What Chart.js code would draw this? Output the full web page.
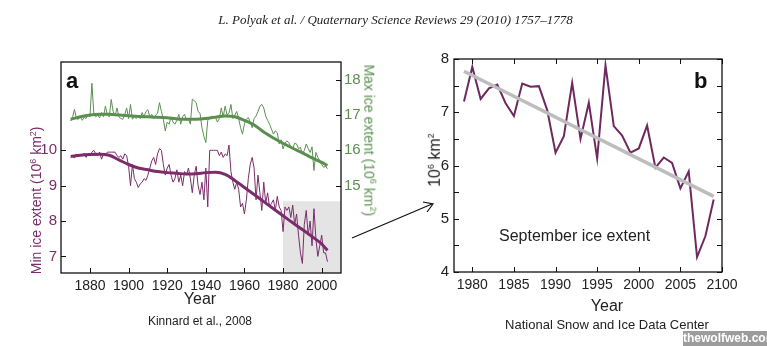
<!DOCTYPE html>
<html>
<head>
<meta charset="utf-8">
<script src="https://cdn.jsdelivr.net/npm/chart.js@4"></script>
<style>
  body { margin: 0; background: #fff; }
  #page { position: relative; width: 767px; height: 346px; overflow: hidden; font-family: "Liberation Sans", Arial, sans-serif; }
  canvas { position: absolute; top: 0; }
  .t { position: absolute; white-space: nowrap; line-height: 1; }
  .rot { transform-origin: center center; }
</style>
</head>
<body>
<div id="page">
  <canvas id="chartA" width="380" height="346" style="left:0"></canvas>
  <canvas id="chartB" width="387" height="346" style="left:380px"></canvas>

  <div class="t" style="left:12px;width:767px;top:13px;text-align:center;font-family:'Liberation Serif',serif;font-style:italic;font-size:13px;color:#222">L. Polyak et al. / Quaternary Science Reviews 29 (2010) 1757–1778</div>

  <div class="t" style="left:66px;top:70px;font-size:22px;font-weight:bold;color:#111">a</div>
  <div class="t" style="left:694px;top:70px;font-size:22px;font-weight:bold;color:#111">b</div>

  <div class="t rot" style="left:-64px;top:193px;width:200px;text-align:center;font-size:14px;color:#7b2d6b;transform:rotate(-90deg)">Min ice extent (10<sup style="font-size:9px">6</sup> km<sup style="font-size:9px">2</sup>)</div>
  <div class="t rot" style="left:270px;top:133px;width:200px;text-align:center;font-size:14px;color:#5a8f50;transform:rotate(90deg)">Max ice extent (10<sup style="font-size:9px">6</sup> km<sup style="font-size:9px">2</sup>)</div>
  <div class="t rot" style="left:385px;top:152px;width:100px;text-align:center;font-size:16px;color:#222;transform:rotate(-90deg)">10<sup style="font-size:9px">6</sup> km<sup style="font-size:9px">2</sup></div>

  <div class="t" style="left:100px;width:200px;top:291px;text-align:center;font-size:16px;color:#222">Year</div>
  <div class="t" style="left:507px;width:200px;top:298px;text-align:center;font-size:16px;color:#222">Year</div>
  <div class="t" style="left:100px;width:200px;top:315px;text-align:center;font-size:12px;color:#222">Kinnard et al., 2008</div>
  <div class="t" style="left:457px;width:300px;top:318px;text-align:center;font-size:13px;color:#222">National Snow and Ice Data Center</div>

  <div class="t" style="left:499px;top:228px;font-size:16px;color:#222">September ice extent</div>

  <div class="t" style="left:683px;top:331px;width:84px;height:15px;background:#9c9c9c;color:#fff;font-size:12px;font-weight:bold;line-height:15px;text-align:center">thewolfweb.com</div>

  <svg width="767" height="346" style="position:absolute;left:0;top:0;pointer-events:none">
    <line x1="352" y1="238" x2="432" y2="204" stroke="#111" stroke-width="1.2"/>
    <polyline points="423,202 433,204 427,212" fill="none" stroke="#111" stroke-width="1.2"/>
  </svg>
</div>

<script>
// panel a: Kinnard et al. 2008 reconstruction, annual values from 1870
const startYear = 1870;
const minExtent = [
  9.80, 9.85, 9.78, 9.90, 9.82, 9.88, 9.85, 9.92, 9.80, 9.90,
  9.85, 9.95, 10.00, 9.90, 9.85, 9.95, 9.75, 9.90, 9.85, 9.95,
  9.95, 9.95, 9.95, 9.95, 9.85, 9.80, 9.85, 9.75, 9.90, 9.85,
  9.55, 9.00, 9.60, 9.20, 9.10, 8.95, 9.05, 9.10, 9.20, 9.15,
  9.30, 9.50, 9.70, 9.80, 9.60, 9.90, 10.05, 10.00, 9.60, 9.30,
  9.50, 9.60, 9.30, 9.10, 9.20, 9.45, 9.10, 9.30, 9.00, 9.40,
  9.30, 9.50, 9.20, 8.80, 9.30, 9.55, 9.00, 8.75, 9.10, 8.60,
  9.50, 8.40, 10.00, 10.00, 10.00, 10.00, 10.00, 9.85, 9.95, 9.80,
  9.90, 9.85, 10.15, 9.40, 9.10, 8.90, 9.10, 8.90, 8.40, 8.50,
  8.20, 8.60, 9.20, 9.60, 9.80, 9.50, 8.60, 9.30, 8.80, 8.30,
  9.10, 8.50, 8.80, 8.40, 8.50, 8.60, 8.30, 8.70, 8.40, 8.30,
  7.70, 8.40, 8.30, 8.40, 8.10, 8.45, 7.90, 8.20, 7.60, 7.10,
  6.80, 7.90, 8.30, 7.60, 8.00, 7.30, 8.35, 7.50, 7.00, 7.30,
  7.60, 7.10, 7.10, 6.85
];
const maxExtent = [
  16.83, 16.95, 17.16, 16.90, 16.88, 16.95, 16.85, 16.93, 16.90, 17.00,
  16.95, 17.90, 17.05, 16.95, 17.00, 16.92, 17.07, 16.95, 17.25, 17.00,
  16.95, 17.44, 17.10, 16.97, 17.20, 16.95, 16.90, 16.88, 17.00, 17.20,
  16.90, 17.30, 16.88, 16.95, 16.90, 16.97, 16.90, 17.07, 16.95, 17.10,
  17.15, 16.95, 17.02, 16.90, 17.00, 17.05, 17.35, 17.10, 16.88, 16.55,
  16.80, 16.74, 16.95, 16.80, 16.74, 16.85, 17.02, 16.74, 16.95, 17.02,
  16.85, 16.90, 16.74, 17.45, 17.40, 17.35, 17.10, 17.05, 16.64, 16.40,
  16.22, 16.85, 16.90, 16.97, 16.95, 16.93, 16.80, 16.90, 17.20, 16.95,
  17.25, 17.00, 17.05, 17.30, 16.90, 17.00, 17.10, 16.90, 16.64, 16.46,
  16.75, 16.88, 16.93, 16.80, 16.64, 16.90, 16.97, 17.10, 17.25, 17.30,
  17.20, 16.97, 16.85, 16.74, 16.60, 16.46, 16.55, 16.50, 16.18, 16.30,
  16.04, 16.20, 16.27, 16.22, 16.10, 16.04, 16.20, 16.18, 16.05, 16.08,
  15.90, 16.00, 16.18, 16.05, 15.94, 16.10, 15.43, 15.94, 15.80, 15.71,
  15.60, 15.52, 15.55, 15.48
];
const smoothYears = [1870, 1875, 1880, 1885, 1890, 1895, 1900, 1905, 1910, 1915, 1920, 1925, 1930, 1935,
  1940, 1945, 1950, 1955, 1960, 1965, 1970, 1975, 1980, 1985, 1990, 1995, 2000, 2003];
const minSmooth = [9.83, 9.86, 9.88, 9.89, 9.86, 9.73, 9.60, 9.50, 9.45, 9.40, 9.37, 9.35, 9.33, 9.34,
  9.37, 9.38, 9.32, 9.15, 8.95, 8.75, 8.55, 8.35, 8.15, 7.95, 7.76, 7.56, 7.35, 7.17];
const maxSmooth = [16.88, 16.95, 17.00, 17.02, 17.02, 17.00, 16.98, 16.96, 16.95, 16.94, 16.92, 16.89, 16.88, 16.88,
  16.90, 16.94, 16.97, 16.95, 16.85, 16.72, 16.52, 16.35, 16.20, 16.06, 15.93, 15.79, 15.66, 15.57];
const xTicksA = [1880, 1900, 1920, 1940, 1960, 1980, 2000];
const minTicks = [7, 8, 9, 10];
const maxTicks = [15, 16, 17, 18];

// panel b: NSIDC September extent
const septYears = [1979, 1980, 1981, 1982, 1983, 1984, 1985, 1986, 1987, 1988, 1989, 1990, 1991, 1992,
  1993, 1994, 1995, 1996, 1997, 1998, 1999, 2000, 2001, 2002, 2003, 2004, 2005, 2006, 2007, 2008, 2009];
const septExtent = [7.20, 7.85, 7.25, 7.45, 7.52, 7.17, 6.93, 7.54, 7.48, 7.49, 7.04, 6.24, 6.55, 7.55,
  6.50, 7.18, 6.13, 7.88, 6.74, 6.56, 6.24, 6.32, 6.75, 5.96, 6.15, 6.05, 5.57, 5.89, 4.28, 4.67, 5.36];
const trendYears = [1979, 2009];
const trendValues = [7.77, 5.42];
const xTicksB = [1980, 1985, 1990, 1995, 2000, 2005, 2010];
const xTickLabelsB = ["1980", "1985", "1990", "1995", "2000", "2005", "2100"];
const yTicksB = [4, 5, 6, 7, 8];
const yMinorB = [4, 4.5, 5, 5.5, 6, 6.5, 7, 7.5, 8];

const PURPLE = "#7b2d6b";
const GREEN = "#5a8f50";
const FONT = "'Liberation Sans', Arial, sans-serif";

// box frame, inward tick marks and optional grey shading
const frameTicks = {
  id: "frameTicks",
  beforeDatasetsDraw(chart, args, opts) {
    if (!opts.shade) return;
    const { ctx, chartArea: a, scales } = chart;
    const x0 = scales.x.getPixelForValue(opts.shade.from);
    const y0 = scales[opts.shade.axis].getPixelForValue(opts.shade.top);
    ctx.save();
    ctx.fillStyle = "#e4e4e4";
    ctx.fillRect(x0, y0, a.right - x0, a.bottom - y0);
    ctx.restore();
  },
  afterDraw(chart, args, opts) {
    const { ctx, chartArea: a, scales } = chart;
    ctx.save();
    ctx.strokeStyle = "#111";
    ctx.lineWidth = 1.3;
    ctx.strokeRect(a.left, a.top, a.width, a.height);
    ctx.lineWidth = 1;
    (opts.marks || []).forEach(m => {
      const s = scales[m.axis];
      const len = m.len || 5;
      ctx.beginPath();
      m.values.forEach(v => {
        const p = Math.round(s.getPixelForValue(v)) + 0.5;
        m.sides.forEach(side => {
          if (side === "bottom") { ctx.moveTo(p, a.bottom); ctx.lineTo(p, a.bottom - len); }
          if (side === "top") { ctx.moveTo(p, a.top); ctx.lineTo(p, a.top + len); }
          if (side === "left") { ctx.moveTo(a.left, p); ctx.lineTo(a.left + len, p); }
          if (side === "right") { ctx.moveTo(a.right, p); ctx.lineTo(a.right - len, p); }
        });
      });
      ctx.stroke();
    });
    ctx.restore();
  }
};

function fixedTicks(values) {
  return s => { s.ticks = values.map(v => ({ value: v })); };
}

const noGrid = { display: false, drawTicks: false, tickLength: 0 };

// ---- panel a ----
new Chart(document.getElementById("chartA"), {
  type: "line",
  data: {
    datasets: [
      {
        data: maxExtent.map((v, i) => ({ x: startYear + i, y: v })),
        yAxisID: "y2", borderColor: GREEN, borderWidth: 1, pointRadius: 0, tension: 0
      },
      {
        data: smoothYears.map((yr, i) => ({ x: yr, y: maxSmooth[i] })),
        yAxisID: "y2", borderColor: GREEN, borderWidth: 3, pointRadius: 0, cubicInterpolationMode: "monotone"
      },
      {
        data: minExtent.map((v, i) => ({ x: startYear + i, y: v })),
        yAxisID: "y", borderColor: PURPLE, borderWidth: 1, pointRadius: 0, tension: 0
      },
      {
        data: smoothYears.map((yr, i) => ({ x: yr, y: minSmooth[i] })),
        yAxisID: "y", borderColor: PURPLE, borderWidth: 3, pointRadius: 0, cubicInterpolationMode: "monotone"
      }
    ]
  },
  options: {
    responsive: false,
    animation: false,
    layout: { padding: { left: 41, right: 15, top: 62, bottom: 51 } },
    plugins: {
      legend: { display: false },
      tooltip: { enabled: false },
      frameTicks: {
        shade: { from: 1980, top: 8.56, axis: "y" },
        marks: [
          { axis: "x", values: xTicksA, sides: ["bottom"] },
          { axis: "y", values: minTicks, sides: ["left"] },
          { axis: "y2", values: maxTicks, sides: ["right"] }
        ]
      }
    },
    scales: {
      x: {
        type: "linear", min: 1865, max: 2010,
        afterBuildTicks: fixedTicks(xTicksA),
        afterFit: s => { s.height = 22; },
        grid: noGrid, border: { display: false },
        ticks: { padding: 5, color: "#222", font: { family: FONT, size: 14 }, callback: v => String(v) }
      },
      y: {
        position: "left", min: 6.53, max: 12.5,
        afterBuildTicks: fixedTicks(minTicks),
        afterFit: s => { s.width = 20; },
        grid: noGrid, border: { display: false },
        ticks: { padding: 4, color: PURPLE, font: { family: FONT, size: 15 } }
      },
      y2: {
        position: "right", min: 12.53, max: 18.5,
        afterBuildTicks: fixedTicks(maxTicks),
        afterFit: s => { s.width = 24; },
        grid: noGrid, border: { display: false },
        ticks: { padding: 3, color: GREEN, font: { family: FONT, size: 15 } }
      }
    }
  },
  plugins: [frameTicks]
});

// ---- panel b ----
new Chart(document.getElementById("chartB"), {
  type: "line",
  data: {
    datasets: [
      {
        data: trendYears.map((yr, i) => ({ x: yr, y: trendValues[i] })),
        borderColor: "#bdbdbd", borderWidth: 3.5, pointRadius: 0
      },
      {
        data: septYears.map((yr, i) => ({ x: yr, y: septExtent[i] })),
        borderColor: "#6e2a60", borderWidth: 2, pointRadius: 0, tension: 0
      }
    ]
  },
  options: {
    responsive: false,
    animation: false,
    layout: { padding: { left: 44, right: 45, top: 59, bottom: 52 } },
    plugins: {
      legend: { display: false },
      tooltip: { enabled: false },
      frameTicks: {
        marks: [
          { axis: "x", values: xTicksB, sides: ["bottom", "top"] },
          { axis: "y", values: yMinorB, sides: ["left", "right"] }
        ]
      }
    },
    scales: {
      x: {
        type: "linear", min: 1977.8, max: 2010,
        afterBuildTicks: fixedTicks(xTicksB),
        afterFit: s => { s.height = 22; },
        grid: noGrid, border: { display: false },
        ticks: {
          padding: 5, color: "#222", font: { family: FONT, size: 14 },
          callback: v => xTickLabelsB[xTicksB.indexOf(v)]
        }
      },
      y: {
        min: 4, max: 8,
        afterBuildTicks: fixedTicks(yTicksB),
        afterFit: s => { s.width = 30; },
        grid: noGrid, border: { display: false },
        ticks: { padding: 5, color: "#222", font: { family: FONT, size: 15 } }
      }
    }
  },
  plugins: [frameTicks]
});
</script>
</body>
</html>
